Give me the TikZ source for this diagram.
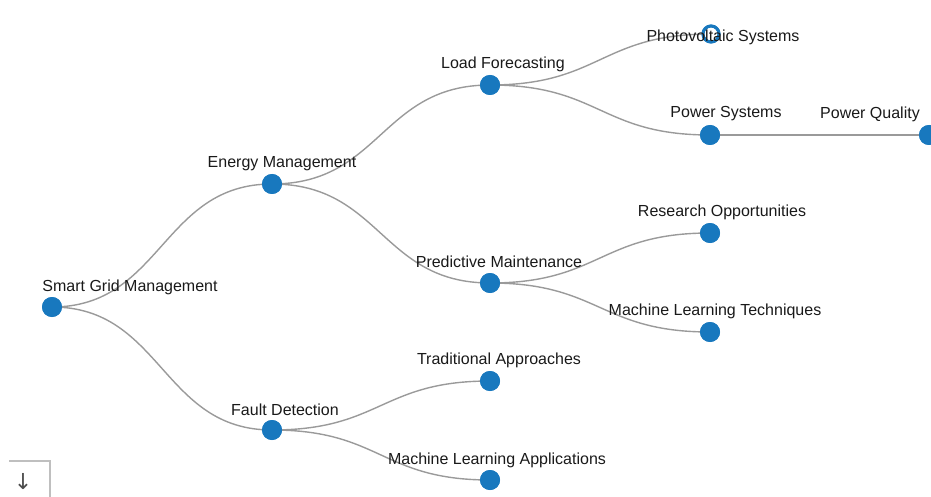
\documentclass[tikz,border=0pt]{standalone}
\usepackage{fontspec}
\setmainfont{Liberation Sans}
\newfontfamily\symfont{DejaVu Sans}
\usetikzlibrary{calc}
\begin{document}
\begin{tikzpicture}[x=1pt,y=-1pt,
  dot/.style={circle,fill=nodeblue,inner sep=0pt,minimum size=20pt},
  lbl/.style={font=\fontsize{16}{18}\selectfont,inner sep=0pt,text=black!90},
  link/.style={draw=linkgray,line width=1.4pt}]
\definecolor{nodeblue}{HTML}{1878BE}
\definecolor{linkgray}{HTML}{9A9A9A}
\useasboundingbox (0,0) rectangle (931,497);
% nodes
\node[dot] (sgm) at (52,307) {};
\node[dot] (em) at (272,184) {};
\node[dot] (fd) at (272,430) {};
\node[dot] (lf) at (490,85) {};
\node[dot] (pm) at (490,283) {};
\node[dot] (ta) at (490,381) {};
\node[dot] (mla) at (490,480) {};
\node[circle,draw=nodeblue,line width=3pt,fill=white,inner sep=0pt,minimum size=16pt] (pv) at (711,34) {};
\node[dot] (ps) at (710,135) {};
\node[dot] (pq) at (929,135) {};
\node[dot] (ro) at (710,233) {};
\node[dot] (mlt) at (710,332) {};
% links
\foreach \a/\b in {sgm/em,sgm/fd,em/lf,em/pm,fd/ta,fd/mla,lf/pv,lf/ps,ps/pq,pm/ro,pm/mlt}{
  \path[link] let \p1=(\a.center), \p2=(\b.center) in
    (\p1) .. controls ({(\x1+\x2)/2},\y1) and ({(\x1+\x2)/2},\y2) .. (\p2);
}
% redraw nodes on top of links
\foreach \n in {sgm,em,fd,lf,pm,ta,mla,ps,pq,ro,mlt}{
  \fill[nodeblue] (\n.center) circle (10pt);
}
\fill[white] (pv.center) circle (6.5pt);
\draw[nodeblue,line width=3pt] (pv.center) circle (8pt);
% labels
\node[lbl] (tsgm) at (130,287) {Smart Grid Management};
\node[lbl] (tem) at (282,164) {Energy Management};
\node[lbl] (tfd) at (285,410) {Fault Detection};
\node[lbl] (tlf) at (503,64) {Load Forecasting};
\node[lbl] (tpm) at (499,262) {Predictive Maintenance};
\node[lbl] (tta) at (499,360) {Traditional Approaches};
\node[lbl] (tmla) at (497,460) {Machine Learning Applications};
\node[lbl] (tpv) at (723,37) {Photovoltaic Systems};
\node[lbl] (tps) at (726,114) {Power Systems};
\node[lbl] (tpq) at (870,114) {Power Quality};
\node[lbl] (tro) at (722,212) {Research Opportunities};
\node[lbl] (tmlt) at (715,311) {Machine Learning Techniques};
% corner button
\coordinate (b1) at (9,461);
\coordinate (b2) at (50,461);
\coordinate (b3) at (50,497);
\draw[black!25,line width=1.2pt] (b1) -- (b2) -- (b3);
\node[font=\symfont\fontsize{22}{24}\selectfont,text=black!70,inner sep=0pt] (arr) at (23,482) {↓};
\end{tikzpicture}
\end{document}
